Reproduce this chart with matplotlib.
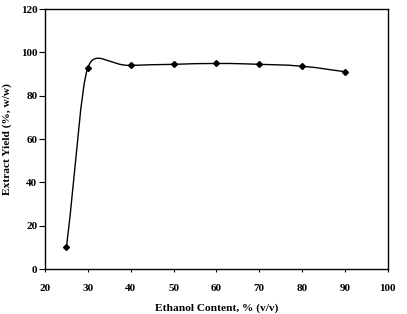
import numpy as np
import matplotlib
matplotlib.use("Agg")
import matplotlib.pyplot as plt
from matplotlib.path import Path
from matplotlib.patches import PathPatch

ethanol = [25, 30, 40, 50, 60, 70, 80, 90]
yield_pct = [10.0, 93.0, 94.0, 94.5, 94.9, 94.5, 93.6, 91.1]

xticks = [20, 30, 40, 50, 60, 70, 80, 90, 100]
yticks = [0, 20, 40, 60, 80, 100, 120]

plt.rcParams["font.family"] = "Liberation Serif"
plt.rcParams["font.weight"] = "bold"

fig = plt.figure(figsize=(4.07, 3.14), dpi=100)
ax = fig.add_axes([0.1106, 0.1433, 0.8424, 0.8277])
ax.set_xlim(20, 100)
ax.set_ylim(0, 120)


def smooth_path(xs, ys, sx, sy, k=0.5):
    # bezier smoothing like a spreadsheet "smoothed line", done in pixel-ish space
    p = np.column_stack([np.asarray(xs) * sx, np.asarray(ys) * sy])
    n = len(p)
    tang = []
    for i in range(n):
        a = p[max(i - 1, 0)]
        b = p[min(i + 1, n - 1)]
        t = b - a
        tang.append(t / np.linalg.norm(t))
    verts = [p[0]]
    codes = [Path.MOVETO]
    for i in range(n - 1):
        seg = np.linalg.norm(p[i + 1] - p[i])
        d0 = k * min(seg, np.linalg.norm(p[i] - p[max(i - 1, 0)]) or seg)
        d1 = k * min(seg, np.linalg.norm(p[min(i + 2, n - 1)] - p[i + 1]) or seg)
        verts += [p[i] + tang[i] * d0, p[i + 1] - tang[i + 1] * d1, p[i + 1]]
        codes += [Path.CURVE4] * 3
    verts = np.array(verts) / [sx, sy]
    return Path(verts, codes)


path = smooth_path(ethanol, yield_pct, 42.9 / 10, 260 / 120, k=0.5)
ax.add_patch(PathPatch(path, facecolor="none", edgecolor="black", lw=1.0))
ax.plot(ethanol, yield_pct, linestyle="none", marker="D", color="black", markersize=3)

ax.set_xticks(xticks)
ax.set_yticks(yticks)
ax.tick_params(axis="x", direction="out", length=2.5, labelsize=8, pad=8)
ax.tick_params(axis="y", direction="out", length=4, labelsize=8, pad=1.5)
for s in ax.spines.values():
    s.set_linewidth(1.0)

ax.set_xlabel("Ethanol Content, % (v/v)", fontsize=8.2, fontweight="bold", labelpad=8)
ax.set_ylabel("Extract Yield (%, w/w)", fontsize=8.2, fontweight="bold", labelpad=6)

fig.savefig("out.png", dpi=100)
